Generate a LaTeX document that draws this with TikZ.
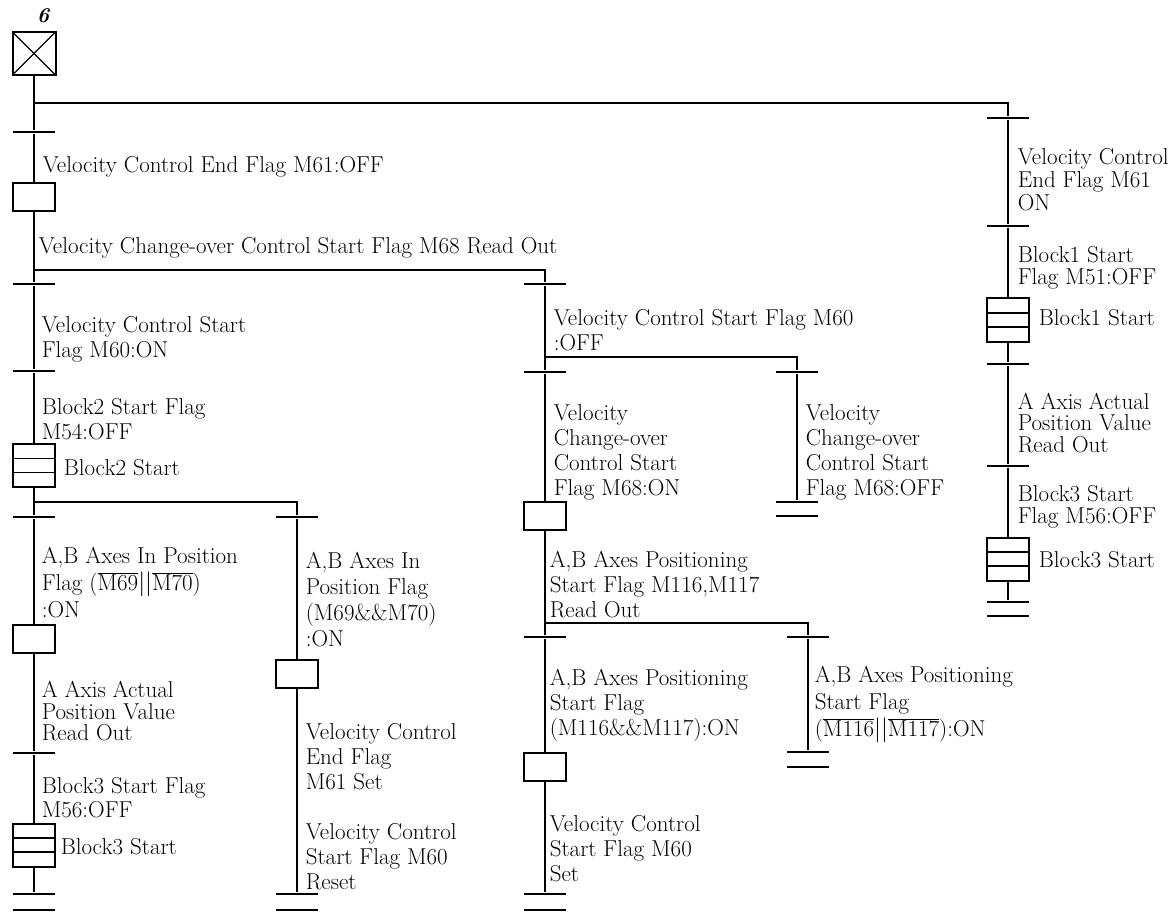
\documentclass[tikz,border=0pt]{standalone}
\usepackage{fontspec}
\begin{document}
\begin{tikzpicture}[x=1pt,y=-1pt,line width=1.6pt,
  lbl/.style={anchor=west,inner sep=0pt,align=left,font=\fontsize{23}{25}\selectfont},
  lblr/.style={lbl,font=\fontsize{23}{21.5}\selectfont},
  stepbox/.style={draw,line width=2pt,minimum width=42pt,minimum height=28pt,inner sep=0pt},
  initbox/.style={draw,line width=2pt,minimum width=43pt,minimum height=43pt,inner sep=0pt,
    path picture={\draw[line width=1.3pt] (path picture bounding box.north west) -- (path picture bounding box.south east)
      (path picture bounding box.north east) -- (path picture bounding box.south west);}},
  blockbox/.style={draw,line width=2pt,minimum width=42pt,minimum height=43pt,inner sep=0pt,
    path picture={\draw[line width=1.5pt]
      ([yshift=-14.3pt]path picture bounding box.north west) -- ([yshift=-14.3pt]path picture bounding box.north east)
      ([yshift=14.3pt]path picture bounding box.south west) -- ([yshift=14.3pt]path picture bounding box.south east);}},
  trans/.style={fill=black,minimum width=42pt,minimum height=1.9pt,inner sep=0pt},
]
\useasboundingbox (0,0) rectangle (1176,912);

\node[font=\bfseries\itshape\fontsize{21}{21}\selectfont] (g) at (43,16) {6};

% ---------- left column
\node[initbox] (s0) at (34,53.5) {};
\coordinate (b0) at (34,103);
\node[trans] (t1) at (34,132) {};
\node[lbl] (l1) at (42,167) {Velocity Control End Flag M61:OFF};
\node[stepbox] (s1) at (34,197.5) {};
\node[lbl] (l2) at (38,248) {Velocity Change-over Control Start Flag M68 Read Out};
\coordinate (b1) at (34,270);
\node[trans] (t2) at (34,284) {};
\node[lbl] (l3) at (41,339.5) {Velocity Control Start\\Flag M60:ON};
\node[trans] (t3) at (34,371) {};
\node[lbl] (l4) at (41,419.5) {Block2 Start Flag\\M54:OFF};
\node[blockbox] (s2) at (34,465.5) {};
\node[lbl] (l5) at (63,468) {Block2 Start};
\coordinate (b2) at (34,502);
\node[trans] (t4) at (34,517) {};
\node[lbl,font=\fontsize{23}{27}\selectfont] (l6) at (41,582.5) {A,B Axes In Position\\Flag ($\overline{\hbox{M69}}||\overline{\hbox{M70}}$)\\:ON};
\node[stepbox] (s3) at (34,638.5) {};
\node[lbl,font=\fontsize{23}{21.5}\selectfont] (l7) at (41,711.5) {A Axis Actual\\Position Value\\Read Out};
\node[trans] (t5) at (34,753) {};
\node[lbl,font=\fontsize{23}{24}\selectfont] (l8) at (41,798) {Block3 Start Flag\\M56:OFF};
\node[blockbox] (s4) at (34,845) {};
\node[lbl] (l9) at (60,847) {Block3 Start};
\node[trans] (e1a) at (34,894) {};
\node[trans] (e1b) at (34,910) {};
\draw (s0) -- (t1) -- (s1) -- (t2) -- (t3) -- (s2) -- (t4) -- (s3) -- (t5) -- (s4) -- (e1a);

% ---------- second column (x=297)
\node[trans] (t6) at (297,517) {};
\node[lbl,font=\fontsize{23}{26}\selectfont] (l10) at (305,600) {A,B Axes In\\Position Flag\\(M69\&\&M70)\\:ON};
\node[stepbox] (s5) at (297,674) {};
\node[lbl] (l11) at (305,757) {Velocity Control\\End Flag\\M61 Set};
\node[lbl] (l12) at (305,857) {Velocity Control\\Start Flag M60\\Reset};
\node[trans] (e2a) at (297,894) {};
\node[trans] (e2b) at (297,910) {};
\draw (b2) -| (t6);
\draw (t6) -- (s5) -- (e2a);

% ---------- third column (x=545)
\node[trans] (t7) at (545,284) {};
\node[lbl] (l13) at (553,330.5) {Velocity Control Start Flag M60\\:OFF};
\coordinate (b3) at (545,357);
\node[trans] (t8) at (545,372) {};
\node[lbl] (l14) at (553,452) {Velocity\\Change-over\\Control Start\\Flag M68:ON};
\node[stepbox] (s6) at (545,516) {};
\node[lbl] (l15) at (549,585) {A,B Axes Positioning\\Start Flag M116,M117\\Read Out};
\coordinate (b4) at (545,623);
\node[trans] (t9) at (545,637) {};
\node[lbl] (l16) at (549,705) {A,B Axes Positioning\\Start Flag\\(M116\&\&M117):ON};
\node[stepbox] (s7) at (545,766.5) {};
\node[lbl] (l17) at (549,849) {Velocity Control\\Start Flag M60\\Set};
\node[trans] (e3a) at (545,894) {};
\node[trans] (e3b) at (545,910) {};
\draw (b1) -| (t7);
\draw (t7) -- (t8) -- (s6) -- (t9) -- (s7) -- (e3a);

% ---------- fourth column (x=797)
\node[trans] (t10) at (797,372) {};
\node[lbl] (l18) at (805,452) {Velocity\\Change-over\\Control Start\\Flag M68:OFF};
\node[trans] (e4a) at (797,502) {};
\node[trans] (e4b) at (797,516) {};
\draw (b3) -| (t10);
\draw (t10) -- (e4a);

% ---------- fifth column (x=808)
\node[trans] (t11) at (808,637) {};
\node[lbl,font=\fontsize{23}{27}\selectfont] (l19) at (814,704) {A,B Axes Positioning\\Start Flag\\($\overline{\hbox{M116}}||\overline{\hbox{M117}}$):ON};
\node[trans] (e5a) at (808,752) {};
\node[trans] (e5b) at (808,767) {};
\draw (b4) -| (t11);
\draw (t11) -- (e5a);

% ---------- right column (x=1008)
\node[trans] (t12) at (1008,118) {};
\node[lblr,font=\fontsize{23}{23}\selectfont] (l20) at (1017,180) {Velocity Control\\End Flag M61\\ON};
\node[trans] (t13) at (1008,226) {};
\node[lblr] (l21) at (1017,268) {Block1 Start\\Flag M51:OFF};
\node[blockbox] (s8) at (1008,320) {};
\node[lbl] (l22) at (1038,318) {Block1 Start};
\node[trans] (t14) at (1008,364) {};
\node[lblr] (l23) at (1017,423) {A Axis Actual\\Position Value\\Read Out};
\node[trans] (t15) at (1008,466) {};
\node[lblr] (l24) at (1017,507) {Block3 Start\\Flag M56:OFF};
\node[blockbox] (s9) at (1008,559) {};
\node[lbl] (l25) at (1038,560) {Block3 Start};
\node[trans] (e6a) at (1008,602) {};
\node[trans] (e6b) at (1008,616) {};
\draw (b0) -| (t12);
\draw (t12) -- (t13) -- (s8) -- (t14) -- (t15) -- (s9) -- (e6a);
\end{tikzpicture}
\end{document}
